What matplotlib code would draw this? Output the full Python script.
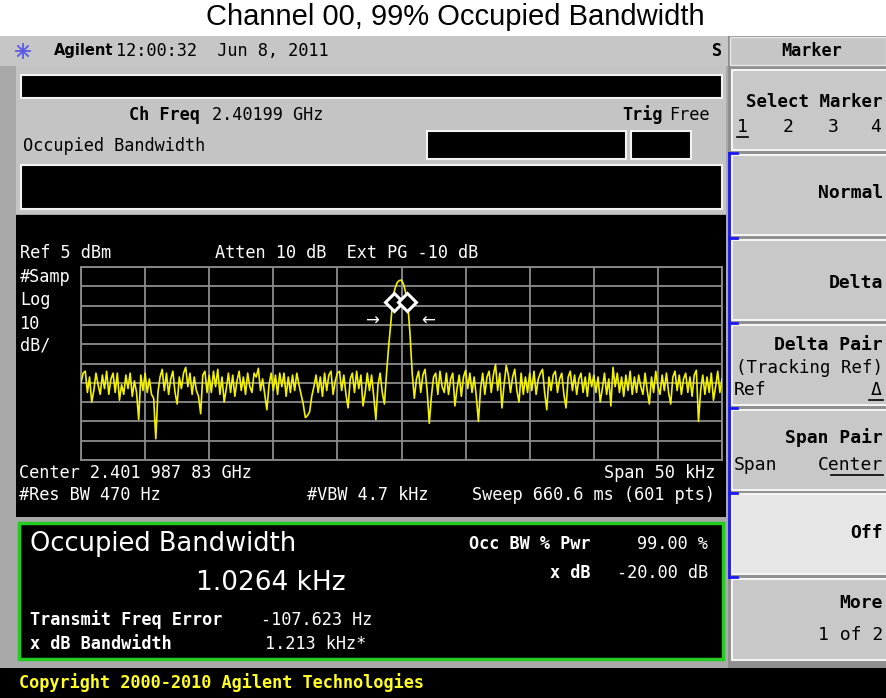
import numpy as np
import matplotlib
matplotlib.use("Agg")
import matplotlib.pyplot as plt
from matplotlib.patches import Rectangle

# ---- values ----
title = "Channel 00, 99% Occupied Bandwidth"
ref_dbm = 5.0
db_per_div = 10.0
span_khz = 50.0

# trace in dBm, 301 points spread over the span
trace_dbm = [
    -55, -50, -49, -60, -52, -65, -59, -50, -56, -61,
    -51, -58, -49, -61, -53, -50, -60, -50, -64, -56,
    -61, -51, -58, -50, -62, -54, -60, -74, -51, -59,
    -50, -60, -53, -61, -63, -84, -60, -52, -48, -59,
    -50, -61, -53, -49, -60, -66, -52, -58, -50, -47,
    -57, -50, -61, -52, -59, -62, -71, -51, -49, -60,
    -51, -60, -49, -57, -48, -61, -52, -65, -58, -50,
    -60, -51, -62, -54, -49, -59, -52, -61, -50, -57,
    -60, -50, -52, -47.5, -59, -53, -61, -69, -56, -50,
    -59, -51, -61, -50, -57, -50, -62, -52, -60, -51,
    -59, -50, -56, -61, -66, -73, -72, -70, -62, -57,
    -51, -60, -52, -62, -50, -59, -51, -49, -61, -54,
    -50, -49, -59, -51, -61, -68, -53, -50, -60, -49,
    -58, -51, -67, -60, -50, -59, -51, -62, -74, -56,
    -50, -60, -66, -50, -36, -24, -10.5, -6, -3, -2,
    -1.8, -4, -8.5, -15, -30, -50, -63, -53, -49, -60,
    -51, -48, -59, -76, -62, -52, -50, -61, -49, -57,
    -60, -50, -61, -53, -50, -67, -58, -51, -62, -52,
    -48.5, -58, -50, -60, -52, -62, -75, -58, -50, -61,
    -52, -49, -60, -51, -45.5, -59, -50, -68, -56, -46,
    -51, -60, -52, -48, -59, -65, -50, -61, -52, -60,
    -50, -59, -49, -61, -53, -50, -48, -60, -69, -52,
    -59, -51, -49, -60, -53, -50, -61, -68, -52, -49,
    -59, -51, -61, -53, -50, -60, -52, -62, -50, -57,
    -51, -60, -52, -65, -58, -50, -61, -53, -67, -47,
    -57, -50, -60, -52, -62, -51, -59, -49, -61, -52,
    -60, -51, -57, -61, -50, -59, -66, -52, -60, -49,
    -57, -61, -51, -59, -50, -60, -66, -52, -49, -59,
    -51, -61, -53, -50, -60, -52, -62, -51, -48.5, -75,
    -59, -51, -61, -52, -60, -50, -64, -57, -49, -60,
    -53,
]
marker_khz = [-0.62, 0.41]
marker_dbm = [-13.0, -13.0]
arrow_khz = [-2.3, 2.1]
arrow_dbm = -23.0

MONO = "DejaVu Sans Mono"
SANS = "DejaVu Sans"
W, H = 886, 698

fig = plt.figure(figsize=(W / 100, H / 100), dpi=100)
fig.patch.set_facecolor("white")
bg = fig.add_axes([0, 0, 1, 1])
bg.set_xlim(0, W)
bg.set_ylim(H, 0)
bg.axis("off")


def box(x0, y0, x1, y1, fc, ec="none", lw=0, z=1):
    bg.add_patch(Rectangle((x0, y0), x1 - x0, y1 - y0, facecolor=fc,
                           edgecolor=ec, linewidth=lw, zorder=z))


def say(x, y, s, size=12.2, color="white", weight="normal", ha="left", family=MONO):
    bg.text(x, y, s, fontsize=size, color=color, fontweight=weight, ha=ha,
            va="center", family=family, zorder=5)


# title
bg.text(455, 17, title, fontsize=21, family="Liberation Sans", ha="center", va="center")

# instrument frame
box(0, 36, 728, 668, "#a9a9a9")
box(0, 36, 728, 66, "#c6c6c6")
# agilent star
for a in np.deg2rad([0, 45, 90, 135]):
    bg.plot([23 - 7 * np.cos(a), 23 + 7 * np.cos(a)], [51 - 7 * np.sin(a), 51 + 7 * np.sin(a)],
            color="#5a5ae6", lw=1.3, zorder=4)
say(54, 51, "Agilent", size=10.5, color="black", weight="bold", family=SANS)
say(116, 51, "12:00:32  Jun 8, 2011", color="black")
say(722, 51, "S", color="black", weight="bold", ha="right")

# upper info panel
box(16, 66, 726, 214, "#c4c4c4")
box(21, 75, 722, 98, "black", ec="#f2f2f2", lw=1.5, z=2)
say(200, 115, "Ch Freq", color="black", weight="bold", ha="right")
say(212, 115, "2.40199 GHz", color="black")
say(663, 115, "Trig", color="black", weight="bold", ha="right")
say(669, 115, "Free", color="black")
say(23, 146, "Occupied Bandwidth", color="black")
box(427, 131, 626, 159, "black", ec="#f2f2f2", lw=1.5, z=2)
box(631, 131, 691, 159, "black", ec="#f2f2f2", lw=1.5, z=2)
box(21, 165, 722, 209, "black", ec="#f2f2f2", lw=1.5, z=2)

# graph area
box(16, 215, 726, 517, "black", z=2)
say(20, 253, "Ref 5 dBm")
say(215, 253, "Atten 10 dB  Ext PG -10 dB")
for yy, s in zip([277, 300, 324, 346], ["#Samp", "Log", "10", "dB/"]):
    say(20, yy, s)
say(19, 473, "Center 2.401 987 83 GHz")
say(715, 473, "Span 50 kHz", ha="right")
say(19, 495, "#Res BW 470 Hz")
say(307, 495, "#VBW 4.7 kHz")
say(715, 495, "Sweep 660.6 ms (601 pts)", ha="right")

# result box
box(19, 523, 723, 659, "black", ec="#22cc22", lw=2.5, z=2)
say(30, 544, "Occupied Bandwidth", size=18.5, family=SANS)
say(271, 583, "1.0264 kHz", size=19, family=SANS, ha="center")
say(591, 544, "Occ BW % Pwr", weight="bold", ha="right")
say(708, 544, "99.00 %", ha="right")
say(591, 573, "x dB", weight="bold", ha="right")
say(708, 573, "-20.00 dB", ha="right")
say(30, 620, "Transmit Freq Error", weight="bold")
say(261, 620, "-107.623 Hz")
say(30, 644, "x dB Bandwidth", weight="bold")
say(265, 644, "1.213 kHz*")

# copyright bar
box(0, 668, W, H, "black")
say(19, 683, "Copyright 2000-2010 Agilent Technologies", color="#ffff22", weight="bold")

# right softkey panel
box(728, 36, W, 668, "#8e8e8e")
box(730, 37, W, 65, "#c6c6c6", ec="#e8e8e8", lw=1)
say(812, 51, "Marker", color="black", weight="bold", ha="center")
key_top = [70, 155, 240, 325, 410, 494, 579]
key_bot = [150, 235, 320, 405, 490, 574, 660]
key_face = ["#c8c8c8"] * 5 + ["#e6e6e6", "#c8c8c8"]
for t, b, fc in zip(key_top, key_bot, key_face):
    box(732, t, W + 5, b, fc, ec="#f4f4f4", lw=1.5, z=2)
RX = 883
say(RX, 102, "Select Marker", color="black", weight="bold", ha="right", size=12.5)
for xx, s in zip([742, 788, 833, 876], ["1", "2", "3", "4"]):
    say(xx, 127, s, color="black", ha="center", size=13)
bg.plot([737, 748], [137, 137], color="black", lw=1.2, zorder=6)
say(RX, 193, "Normal", color="black", weight="bold", ha="right", size=13)
say(RX, 283, "Delta", color="black", weight="bold", ha="right", size=13)
say(RX, 345, "Delta Pair", color="black", weight="bold", ha="right", size=13)
say(RX, 368, "(Tracking Ref)", color="black", ha="right", size=12.5)
say(734, 390, "Ref", color="black", size=13)
say(876, 390, "\u0394", color="black", ha="center", size=13)
bg.plot([869, 883], [400, 400], color="black", lw=1.2, zorder=6)
say(RX, 438, "Span Pair", color="black", weight="bold", ha="right", size=13)
say(734, 465, "Span", color="black", size=13)
say(RX, 465, "Center", color="black", ha="right", size=13)
bg.plot([831, 883], [475, 475], color="black", lw=1.2, zorder=6)
say(RX, 533, "Off", color="black", weight="bold", ha="right", size=13)
say(RX, 603, "More", color="black", weight="bold", ha="right", size=13)
say(RX, 635, "1 of 2", color="black", ha="right", size=13)
# blue bracket
bg.plot([729, 729], [153, 577], color="#1a1aee", lw=2, zorder=6)
for yy in [153, 238, 323, 408, 493, 577]:
    bg.plot([729, 737], [yy, yy], color="#1a1aee", lw=2, zorder=6)

# spectrum graticule + trace
gx0, gx1, gy0, gy1 = 81, 722, 267, 460
ax = fig.add_axes([gx0 / W, 1 - gy1 / H, (gx1 - gx0) / W, (gy1 - gy0) / H])
ax.set_facecolor("none")
ax.set_xlim(-span_khz / 2, span_khz / 2)
ax.set_ylim(ref_dbm - 10 * db_per_div, ref_dbm)
ax.set_xticks(np.linspace(-span_khz / 2, span_khz / 2, 11))
ax.set_yticks(np.linspace(ref_dbm - 10 * db_per_div, ref_dbm, 11))
ax.tick_params(length=0, labelbottom=False, labelleft=False)
ax.grid(True, color="#8c8c8c", lw=1.3)
for sp in ax.spines.values():
    sp.set_color("#8c8c8c")
    sp.set_linewidth(1.3)

freq = np.linspace(-span_khz / 2, span_khz / 2, len(trace_dbm))
ax.plot(freq, trace_dbm, color="#f2f200", lw=1.2, zorder=3)
ax.plot(marker_khz, marker_dbm, "D", ms=9, mfc="black", mec="white", mew=2.2, zorder=4)
ax.text(arrow_khz[0], arrow_dbm, "\u2192", color="white", fontsize=12, ha="center", va="center")
ax.text(arrow_khz[1], arrow_dbm, "\u2190", color="white", fontsize=12, ha="center", va="center")

fig.savefig("out.png", dpi=100)
